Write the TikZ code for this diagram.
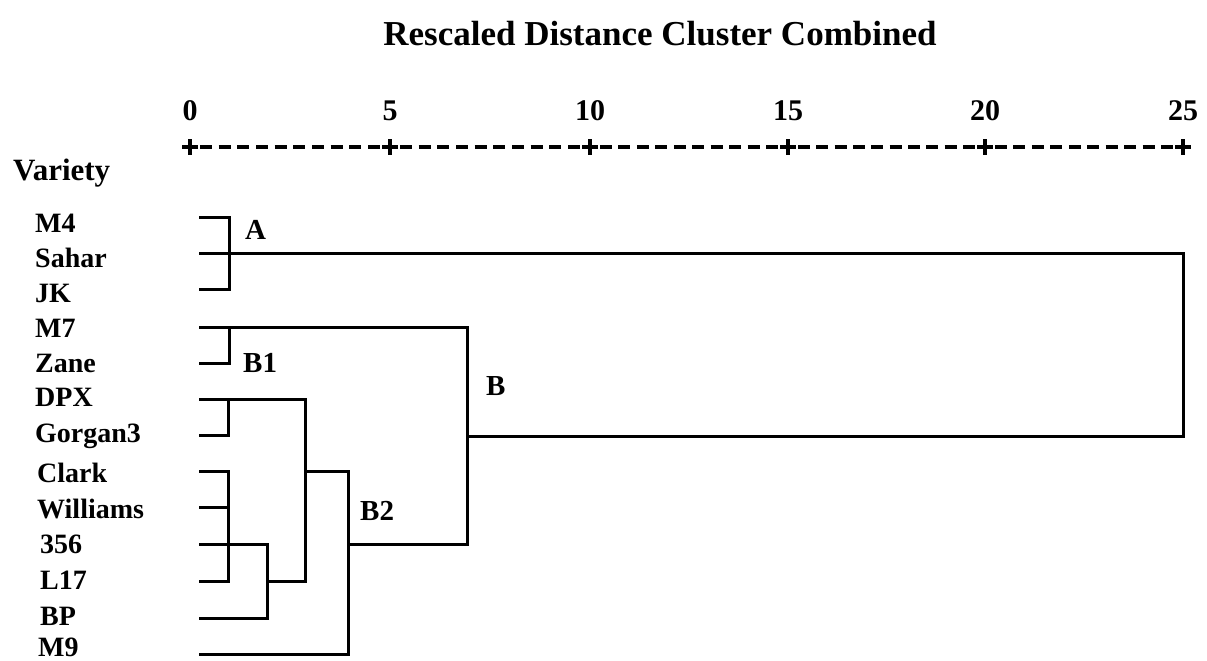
\documentclass[tikz,border=0pt]{standalone}
\usepackage{fontspec}
\setmainfont{Liberation Serif}
\begin{document}
\begin{tikzpicture}[x=1pt,y=-1pt,
  leaf/.style={anchor=base west,inner sep=0pt,font=\fontsize{28}{28}\selectfont\bfseries},
  clab/.style={anchor=base west,inner sep=0pt,font=\fontsize{29}{29}\selectfont\bfseries},
  tick/.style={anchor=base,inner sep=0pt,font=\fontsize{30}{30}\selectfont\bfseries},
  dl/.style={line width=3pt,line join=miter,line cap=rect},
  ax/.style={line width=3.6pt}]
\useasboundingbox (0,0) rectangle (1207,661);
% title
\node[anchor=base,inner sep=0pt,font=\fontsize{35}{35}\selectfont\bfseries] (title) at (660,46) {Rescaled Distance Cluster Combined};
\node[anchor=base west,inner sep=0pt,font=\fontsize{31}{31}\selectfont\bfseries] (variety) at (13,180) {Variety};
% axis
\foreach \v/\x in {0/190,5/390,10/590,15/788,20/985,25/1183}{
  \node[tick] (t\v) at (\x,120) {\v};
  \draw[ax] (\x-8,147) -- (\x+8,147) (\x,139) -- (\x,155);
}
\foreach \a/\b in {190/390,390/590,590/788,788/985,985/1183}{
  \pgfmathsetmacro{\st}{(\b-\a-20-12)/9}
  \foreach \j in {0,...,9}{
    \draw[ax] (\a+10+\j*\st,147) -- (\a+22+\j*\st,147);
  }
}
% leaf labels
\node[leaf] (nM4) at (35,232) {M4};
\node[leaf] (nSahar) at (35,267) {Sahar};
\node[leaf] (nJK) at (35,302) {JK};
\node[leaf] (nM7) at (35,337) {M7};
\node[leaf] (nZane) at (35,372) {Zane};
\node[leaf] (nDPX) at (35,406) {DPX};
\node[leaf] (nGorgan3) at (35,442) {Gorgan3};
\node[leaf] (nClark) at (37,482) {Clark};
\node[leaf] (nWilliams) at (37,518) {Williams};
\node[leaf] (n356) at (40,553) {356};
\node[leaf] (nL17) at (40,589) {L17};
\node[leaf] (nBP) at (40,625) {BP};
\node[leaf] (nM9) at (38,656) {M9};
% cluster labels
\node[clab] (cA) at (245,239) {A};
\node[clab] (cB1) at (243,372) {B1};
\node[clab] (cB) at (486,395) {B};
\node[clab] (cB2) at (360,520) {B2};
% leaf line starts
\coordinate (lM4) at (200,217);
\coordinate (lSahar) at (200,253);
\coordinate (lJK) at (200,289);
\coordinate (lM7) at (200,327);
\coordinate (lZane) at (200,363);
\coordinate (lDPX) at (200,399);
\coordinate (lGorgan3) at (200,435);
\coordinate (lClark) at (200,471);
\coordinate (lWilliams) at (200,507);
\coordinate (l356) at (200,544);
\coordinate (lL17) at (200,581);
\coordinate (lBP) at (200,618);
\coordinate (lM9) at (200,654);
% junctions
\coordinate (jA1) at (229,217);
\coordinate (jA2) at (229,289);
\coordinate (jR1) at (1183,253);
\coordinate (jR2) at (1183,436);
\coordinate (jB0) at (467,436);
\coordinate (jB1) at (467,327);
\coordinate (jB2) at (467,544);
\coordinate (jH) at (348,544);
\coordinate (jB1a) at (229,327);
\coordinate (jB1b) at (229,363);
\coordinate (jC1) at (305,399);
\coordinate (jC2) at (305,581);
\coordinate (jC3) at (305,471);
\coordinate (jD1) at (228,399);
\coordinate (jD2) at (228,435);
\coordinate (jE1) at (228,471);
\coordinate (jE2) at (228,507);
\coordinate (jE4) at (228,581);
\coordinate (jF1) at (267,544);
\coordinate (jF2) at (267,618);
\coordinate (jF3) at (267,581);
\coordinate (jG1) at (348,471);
\coordinate (jG2) at (348,654);
% dendrogram
\draw[dl] (lM4) -- (jA1) -- (jA2) -- (lJK);
\draw[dl] (lSahar) -- (jR1) -- (jR2) -- (jB0);
\draw[dl] (lM7) -- (jB1) -- (jB2) -- (jH);
\draw[dl] (jB1a) -- (jB1b) -- (lZane);
\draw[dl] (lDPX) -- (jC1) -- (jC2) -- (jF3);
\draw[dl] (jD1) -- (jD2) -- (lGorgan3);
\draw[dl] (lClark) -- (jE1) -- (jE4) -- (lL17);
\draw[dl] (lWilliams) -- (jE2);
\draw[dl] (l356) -- (jF1) -- (jF2) -- (lBP);
\draw[dl] (jC3) -- (jG1) -- (jG2) -- (lM9);
\end{tikzpicture}
\end{document}
